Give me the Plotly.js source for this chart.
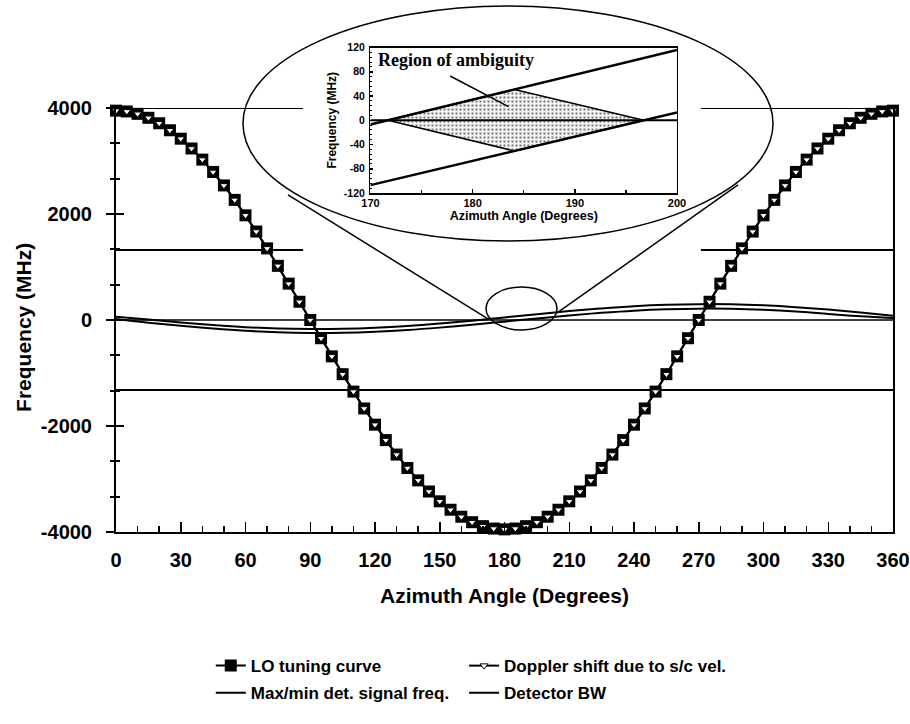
<!DOCTYPE html>
<html>
<head>
<meta charset="utf-8">
<script src="https://cdn.plot.ly/plotly-3.0.1.min.js"></script>
<style>html,body{margin:0;padding:0;background:#fff}</style>
</head>
<body>
<div id="chart" style="width:910px;height:724px"></div>
<script>
// ---------- main chart data ----------
const angles = [0,5,10,15,20,25,30,35,40,45,50,55,60,65,70,75,80,85,90,95,100,105,110,115,120,125,130,135,140,145,150,155,160,165,170,175,180,
  185,190,195,200,205,210,215,220,225,230,235,240,245,250,255,260,265,270,275,280,285,290,295,300,305,310,315,320,325,330,335,340,345,350,355,360];
const loTuning = [3950,3935,3890,3815,3712,3580,3421,3236,3026,2793,2539,2266,1975,1669,1351,1022,686,344,0,-344,-686,-1022,-1351,-1669,-1975,-2266,-2539,-2793,-3026,-3236,-3421,-3580,-3712,-3815,-3890,-3935,-3950,
  -3935,-3890,-3815,-3712,-3580,-3421,-3236,-3026,-2793,-2539,-2266,-1975,-1669,-1351,-1022,-686,-344,0,344,686,1022,1351,1669,1975,2266,2539,2793,3026,3236,3421,3580,3712,3815,3890,3935,3950];
const dopplerShift = [3950,3935,3890,3815,3712,3580,3421,3236,3026,2793,2539,2266,1975,1669,1351,1022,686,344,0,-344,-686,-1022,-1351,-1669,-1975,-2266,-2539,-2793,-3026,-3236,-3421,-3580,-3712,-3815,-3890,-3935,-3950,
  -3935,-3890,-3815,-3712,-3580,-3421,-3236,-3026,-2793,-2539,-2266,-1975,-1669,-1351,-1022,-686,-344,0,344,686,1022,1351,1669,1975,2266,2539,2793,3026,3236,3421,3580,3712,3815,3890,3935,3950];

const sigAngles = [0,15,30,45,60,75,90,105,120,135,150,165,180,195,210,225,240,255,270,285,300,315,330,345,360];
const maxSignal = [60,10,-45,-95,-135,-160,-170,-166,-146,-112,-66,-12,49,110,168,219,260,287,299,296,276,242,196,142,80];
const minSignal = [20,-50,-110,-162,-204,-232,-244,-241,-222,-189,-144,-90,-31,29,86,136,176,202,214,211,192,159,114,70,40];

const zeroAngles = [0,360];
const zeroFreq = [0,0];
const bwUpperAngles = [0,86.7,null,271,360];
const bwUpper = [1320,1320,null,1320,1320];
const bwLowerAngles = [0,360];
const bwLower = [-1320,-1320];
const topAngles = [0,86.7,null,271,360];
const topFreq = [4000,4000,null,4000,4000];

const xTickVals = [0,30,60,90,120,150,180,210,240,270,300,330,360];
const yTickVals = [-4000,-2000,0,2000,4000];
const yTickText = ['-4000','-2000','0','2000','4000'];

// ---------- inset data ----------
const insetAngles = [170,200];
const insetUpper = [-7,116];
const insetLower = [-107,13];
const insetZero = [0,0];
const ambAngles = [171.7,184.1,196.75,184.1,171.7];
const ambFreq = [0,50.7,0,-50.7,0];
const insetXTicks = [170,180,190,200];
const insetYTicks = [-120,-80,-40,0,40,80,120];
const insetYText = ['-120','-80','-40','0','40','80','120'];

const FONT = 'Liberation Sans, Arial, Helvetica, sans-serif';
const SERIF = 'Liberation Serif, Times New Roman, serif';

const traces = [
  {x: topAngles, y: topFreq, mode:'lines', line:{color:'black', width:2}, showlegend:false, hoverinfo:'skip', connectgaps:false},
  {x: bwUpperAngles, y: bwUpper, mode:'lines', line:{color:'black', width:2}, name:'Detector BW', legend:'legend4', connectgaps:false},
  {x: bwLowerAngles, y: bwLower, mode:'lines', line:{color:'black', width:2}, showlegend:false},
  {x: zeroAngles, y: zeroFreq, mode:'lines', line:{color:'black', width:1.5}, showlegend:false},
  {x: sigAngles, y: maxSignal, mode:'lines', line:{color:'black', width:2, shape:'spline'}, name:'Max/min det. signal freq.', legend:'legend3'},
  {x: sigAngles, y: minSignal, mode:'lines', line:{color:'black', width:2, shape:'spline'}, showlegend:false},
  {x: angles, y: loTuning, mode:'lines+markers', name:'LO tuning curve', legend:'legend',
   line:{color:'black', width:2}, marker:{symbol:'square', size:12, color:'black'}, cliponaxis:false},
  {x: angles, y: dopplerShift, mode:'lines+markers', name:'Doppler shift due to s/c vel.', legend:'legend2',
   line:{color:'black', width:2}, marker:{symbol:'triangle-down', size:7, color:'white', line:{color:'black', width:1}}, cliponaxis:false},
  {x:[null], y:[null], yaxis:'y3', showlegend:false, hoverinfo:'skip'},
  // inset
  {x: ambAngles, y: ambFreq, xaxis:'x2', yaxis:'y2', mode:'lines', fill:'toself', fillcolor:'rgba(0,0,0,0)',
   fillpattern:{shape:'.', fgcolor:'#777', bgcolor:'white', size:4, solidity:0.3},
   line:{color:'black', width:1.5}, showlegend:false},
  {x: insetAngles, y: insetZero, xaxis:'x2', yaxis:'y2', mode:'lines', line:{color:'black', width:2}, showlegend:false},
  {x: insetAngles, y: insetUpper, xaxis:'x2', yaxis:'y2', mode:'lines', line:{color:'black', width:2.5}, showlegend:false},
  {x: insetAngles, y: insetLower, xaxis:'x2', yaxis:'y2', mode:'lines', line:{color:'black', width:2.5}, showlegend:false}
];

const legendBase = {orientation:'h', xanchor:'left', yanchor:'middle', bgcolor:'rgba(0,0,0,0)',
  font:{family:FONT, size:17, weight:'bold', color:'black'}, itemwidth:30, tracegroupgap:0};

const layout = {
  width:910, height:724,
  margin:{l:116, r:17, t:0, b:192},
  paper_bgcolor:'white', plot_bgcolor:'rgba(0,0,0,0)',
  font:{family:FONT, color:'black'},
  showlegend:true,
  xaxis:{range:[0,360], domain:[0,1], anchor:'y', tickvals:xTickVals, ticks:'inside', ticklen:10, tickwidth:1.5, tickcolor:'black',
    minor:{dtick:10, tick0:0, ticks:'inside', ticklen:6, tickwidth:1.5, tickcolor:'black', showgrid:false},
    showline:true, linewidth:2, linecolor:'black', showgrid:false, zeroline:false,
    tickfont:{size:20, weight:'bold', family:FONT}, ticklabelstandoff:9,
    title:{text:'Azimuth Angle (Degrees)', font:{size:21, weight:'bold', family:FONT}, standoff:18}},
  yaxis:{range:[-4000,4000], domain:[0,0.797], anchor:'x', tickvals:yTickVals, ticktext:yTickText, ticks:'outside', ticklen:8, tickwidth:2, tickcolor:'black',
    minor:{dtick:2000/3, tick0:0, ticks:'outside', ticklen:4, tickwidth:2, tickcolor:'black', showgrid:false},
    showline:true, mirror:true, linewidth:2, linecolor:'black', showgrid:false, zeroline:false,
    tickfont:{size:20, weight:'bold', family:FONT}, ticklabelstandoff:10},
  yaxis3:{overlaying:'y', range:[-4000,4000], side:'left', tickvals:yTickVals, ticks:'inside', ticklen:8, tickwidth:2, tickcolor:'black',
    minor:{dtick:2000/3, tick0:0, ticks:'inside', ticklen:4, tickwidth:2, tickcolor:'black', showgrid:false},
    showticklabels:false, showline:false, showgrid:false, zeroline:false},
  xaxis2:{domain:[0.3275,0.7220], anchor:'y2', range:[170,200], tickvals:insetXTicks, ticks:'inside', ticklen:4, tickwidth:1.5, tickcolor:'black',
    minor:{dtick:5, tick0:170, ticks:'inside', ticklen:3, tickwidth:1.5, tickcolor:'black', showgrid:false},
    showline:true, mirror:true, linewidth:1.5, linecolor:'black', showgrid:false, zeroline:false,
    tickfont:{size:11, weight:'bold', family:FONT}, ticklabelstandoff:-1,
    title:{text:'Azimuth Angle (Degrees)', font:{size:12.5, weight:'bold', family:FONT}, standoff:1}},
  yaxis2:{domain:[0.6372,0.9107], anchor:'x2', range:[-120,120], tickvals:insetYTicks, ticktext:insetYText, ticks:'inside', ticklen:3, tickwidth:1.5, tickcolor:'black',
    minor:{dtick:8, tick0:0, ticks:'inside', ticklen:2, tickwidth:1, tickcolor:'black', showgrid:false},
    showline:true, mirror:true, linewidth:1.5, linecolor:'black', showgrid:false, zeroline:false,
    tickfont:{size:10.5, weight:'bold', family:FONT}, ticklabelstandoff:2,
    title:{text:'Frequency (MHz)', font:{size:12, weight:'bold', family:FONT}, standoff:4}},
  legend: Object.assign({}, legendBase, {x:0.122, y:-0.252}),
  legend2: Object.assign({}, legendBase, {x:0.448, y:-0.252}),
  legend3: Object.assign({}, legendBase, {x:0.122, y:-0.303}),
  legend4: Object.assign({}, legendBase, {x:0.448, y:-0.303}),
  annotations:[
    {xref:'paper', yref:'paper', x:-0.12, y:0.385, textangle:-90, xanchor:'center', yanchor:'middle', showarrow:false,
     text:'Frequency (MHz)', font:{family:FONT, size:21, weight:'bold', color:'black'}},
    {xref:'x2', yref:'y2', x:170.5, y:100, xanchor:'left', yanchor:'middle', showarrow:false,
     text:'Region of ambiguity', font:{family:SERIF, size:18, weight:'bold', color:'black'}}
  ],
  shapes:[
    {type:'circle', xref:'paper', yref:'paper', x0:0.1634, x1:0.8456, y0:0.5470, y1:0.9887, line:{color:'black', width:1.5}, layer:'above'},
    {type:'line', xref:'paper', yref:'paper', x0:0.2214, y0:0.6335, x1:0.4788, y1:0.4004, line:{color:'black', width:1.5}},
    {type:'line', xref:'paper', yref:'paper', x0:0.5676, y0:0.4117, x1:0.8005, y1:0.6523, line:{color:'black', width:1.5}},
    {type:'circle', xref:'paper', yref:'paper', x0:0.4762, x1:0.5676, y0:0.3797, y1:0.4605, line:{color:'black', width:1.5}},
    {type:'line', xref:'x2', yref:'y2', x0:177.8, y0:73, x1:183.5, y1:22.4, line:{color:'black', width:1.5}}
  ]
};

Plotly.newPlot('chart', traces, layout, {displayModeBar:false, staticPlot:true});
</script>
</body>
</html>
